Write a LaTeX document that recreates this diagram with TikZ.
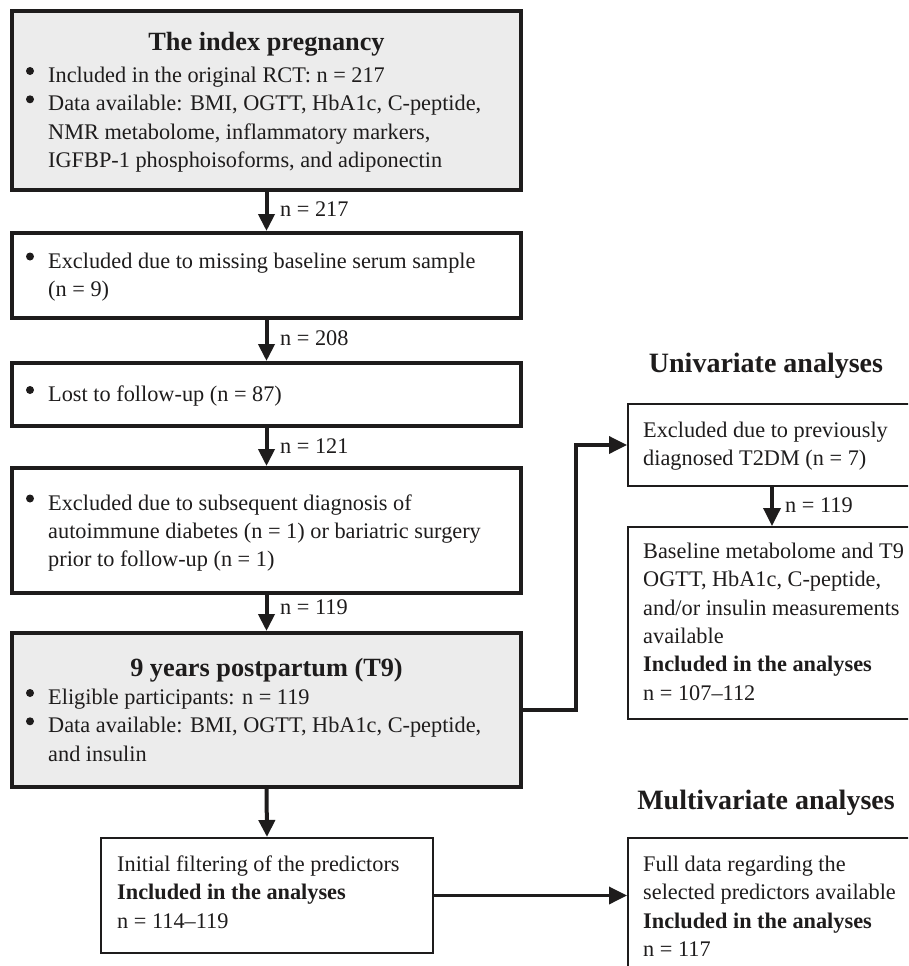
\documentclass[tikz,border=0pt]{standalone}
\usepackage{fontspec}
\setmainfont{Liberation Serif}
\usetikzlibrary{arrows.meta}
\definecolor{boxgray}{RGB}{236,236,236}
\definecolor{ink}{RGB}{30,28,28}
\begin{document}
\begin{tikzpicture}[x=1pt,y=-1pt,
  txt/.style={font=\fontsize{22.3pt}{28.3pt}\selectfont, inner sep=0, align=left, anchor=base west, text=ink},
  ttl/.style={font=\fontsize{26.3pt}{30pt}\selectfont\bfseries, inner sep=0, anchor=base, text=ink},
  sec/.style={font=\fontsize{28pt}{32pt}\selectfont\bfseries, inner sep=0, anchor=base, text=ink},
  lab/.style={font=\fontsize{22.3pt}{26pt}\selectfont, inner sep=0, anchor=base west, text=ink},
  mainbox/.style={draw=ink, line width=4pt, rectangle, inner sep=0, minimum width=509pt},
  subbox/.style={draw=ink, line width=2pt, rectangle, inner sep=0},
  bulletdot/.style={fill=ink, circle, inner sep=0, minimum size=8pt},
  flow/.style={draw=ink, line width=4pt, -{Triangle[length=17pt,width=16pt]}},
  sflow/.style={draw=ink, line width=3.5pt, -{Triangle[length=18pt,width=17pt]}}]
\useasboundingbox (0,0) rectangle (908,966);
\fill[white] (0,0) rectangle (908,966);
\clip (0,0) rectangle (908,966);

% left column boxes
\node[mainbox, fill=boxgray, minimum height=179pt] (b1) at (266.5,100.5) {};
\node[mainbox, minimum height=85pt] (b2) at (266.5,275.5) {};
\node[mainbox, minimum height=63pt] (b3) at (266.5,394.5) {};
\node[mainbox, minimum height=125pt] (b4) at (266.5,530.5) {};
\node[mainbox, fill=boxgray, minimum height=154pt] (b5) at (266.5,710) {};
\node[subbox, minimum width=332pt, minimum height=115pt] (b8) at (267,895.5) {};

% right column boxes
\node[subbox, minimum width=288pt, minimum height=82pt] (b6) at (772,445) {};
\node[subbox, minimum width=288pt, minimum height=192pt] (b7) at (772,623) {};
\node[subbox, minimum width=288pt, minimum height=152pt] (b9) at (772,914) {};

% bullets
\node[bulletdot] (d1) at (30,71) {};
\node[bulletdot] (d2) at (30,99.3) {};
\node[bulletdot] (d3) at (30,256.5) {};
\node[bulletdot] (d4) at (30,390) {};
\node[bulletdot] (d5) at (30,498.5) {};
\node[bulletdot] (d6) at (30,693) {};
\node[bulletdot] (d7) at (30,721.3) {};

% texts (anchor = baseline of the last line)
\node[ttl] (t1h) at (266.5,51) {The index pregnancy};
\node[txt] (t1) at (48,167.4) {Included in the original RCT: n = 217\\
Data available: BMI, OGTT, HbA1c, C-peptide,\\
NMR metabolome, inflammatory markers,\\
IGFBP-1 phosphoisoforms, and adiponectin};
\node[txt] (t2) at (48,296.3) {Excluded due to missing baseline serum sample\\(n = 9)};
\node[txt] (t3) at (48,401.5) {Lost to follow-up (n = 87)};
\node[txt] (t4) at (48,566.6) {Excluded due to subsequent diagnosis of\\
autoimmune diabetes (n = 1) or bariatric surgery\\
prior to follow-up (n = 1)};
\node[ttl] (t5h) at (266.5,676) {9 years postpartum (T9)};
\node[txt] (t5) at (48,761.1) {Eligible participants: n = 119\\
Data available: BMI, OGTT, HbA1c, C-peptide,\\
and insulin};
\node[txt] (t6) at (643,465.8) {Excluded due to previously\\diagnosed T2DM (n = 7)};
\node[txt] (t7) at (643,700) {Baseline metabolome and T9\\
OGTT, HbA1c, C-peptide,\\
and/or insulin measurements\\
available\\
\textbf{Included in the analyses}\\
n = 107--112};
\node[txt] (t8) at (117,928.1) {Initial filtering of the predictors\\
\textbf{Included in the analyses}\\
n = 114--119};
\node[txt] (t9) at (643,956.4) {Full data regarding the\\
selected predictors available\\
\textbf{Included in the analyses}\\
n = 117};
\node[sec] (uni) at (766,372) {Univariate analyses};
\node[sec] (multi) at (766,809) {Multivariate analyses};

% arrow labels
\node[lab] (l1) at (280,216) {n = 217};
\node[lab] (l2) at (280,345) {n = 208};
\node[lab] (l3) at (280,453) {n = 121};
\node[lab] (l4) at (280,614) {n = 119};
\node[lab] (l5) at (785,512) {n = 119};

% connectors
\draw[flow] (b1.south) -- (b2.north);
\draw[flow] (b2.south) -- (b3.north);
\draw[flow] (b3.south) -- (b4.north);
\draw[flow] (b4.south) -- (b5.north);
\draw[flow] (b5.south) -- (b8.north);
\draw[sflow] (b6.south) -- (b7.north);
\draw[sflow] (b5.east) -- ++(53,0) |- (b6.west);
\draw[sflow] (b8.east) -- (b8.east -| b9.west);
\end{tikzpicture}
\end{document}
